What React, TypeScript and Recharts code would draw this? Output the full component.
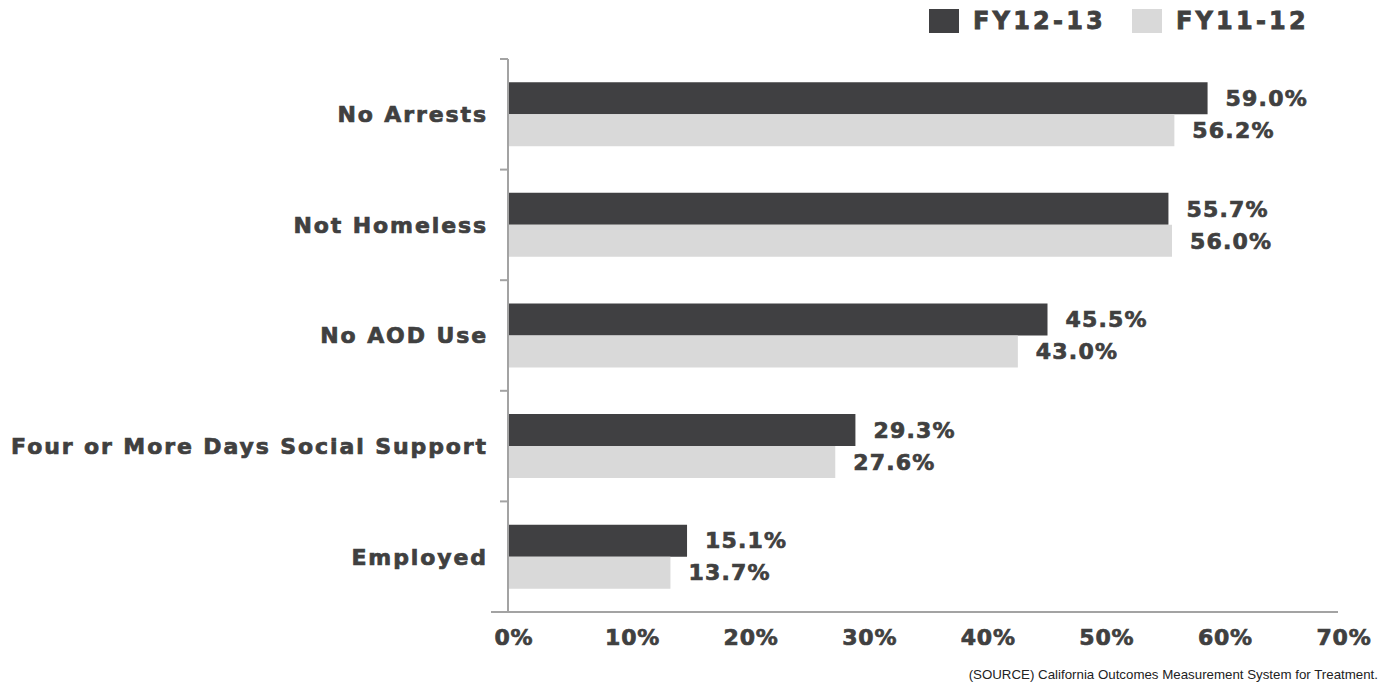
import React from 'react';
import { BarChart, Bar, XAxis, YAxis, LabelList } from 'recharts';

const categories = [
  'No Arrests',
  'Not Homeless',
  'No AOD Use',
  'Four or More Days Social Support',
  'Employed',
];
const fy1213 = [59.0, 55.7, 45.5, 29.3, 15.1];
const fy1112 = [56.2, 56.0, 43.0, 27.6, 13.7];
const xTicks = [0, 10, 20, 30, 40, 50, 60, 70];
const seriesNames = ['FY12-13', 'FY11-12'];
const seriesColors = ['#404042', '#d9d9d9'];
const sourceNote = '(SOURCE) California Outcomes Measurement System for Treatment.';

const data = categories.map((name, i) => ({ name, a: fy1213[i], b: fy1112[i] }));

const FONT = "'DejaVu Sans', 'Liberation Sans', sans-serif";
const TEXT = '#404040';
const AXIS = '#a3a3a3';

const YTick = (props: any) => {
  const { x, y, payload, index } = props;
  const half = payload && typeof payload.offset === 'number' && payload.offset > 0 ? payload.offset : 55.3;
  return (
    <g>
      <line x1={x - 8} x2={x} y1={y - half} y2={y - half} stroke={AXIS} strokeWidth={2} />
      {index === categories.length - 1 && (
        <line x1={x - 17} x2={x} y1={y + half} y2={y + half} stroke={AXIS} strokeWidth={2} />
      )}
      <text
        x={x - 20}
        y={y}
        dy="0.36em"
        textAnchor="end"
        fill={TEXT}
        stroke={TEXT}
        strokeWidth={0.7}
        fontFamily={FONT}
        fontWeight="bold"
        fontSize={22}
        letterSpacing={1.9}
      >
        {payload.value}
      </text>
    </g>
  );
};

const fmt = (v: any) => `${Number(v).toFixed(1)}%`;

export default function App() {
  return (
    <div style={{ position: 'absolute', left: 0, top: 0, width: 1390, height: 684, background: '#fff' }}>
      <BarChart
        width={1390}
        height={684}
        data={data}
        layout="vertical"
        margin={{ top: 59, right: 52, left: 0, bottom: 0 }}
        barCategoryGap="21%"
        barGap={0}
      >
        <XAxis
          type="number"
          domain={[0, 70]}
          ticks={xTicks}
          tickFormatter={(v: number) => `${v}%`}
          height={72}
          tickLine={false}
          tickSize={0}
          tickMargin={17}
          axisLine={{ stroke: AXIS, strokeWidth: 2 }}
          tick={{ fill: TEXT, stroke: TEXT, strokeWidth: 0.7, fontSize: 22, fontWeight: 'bold', fontFamily: FONT, letterSpacing: 0.8, dx: 6 }}
          interval={0}
        />
        <YAxis
          type="category"
          dataKey="name"
          width={508}
          tickLine={false}
          tickSize={0}
          tickMargin={0}
          axisLine={{ stroke: AXIS, strokeWidth: 2 }}
          tick={<YTick />}
          interval={0}
        />
        <Bar dataKey="a" name={seriesNames[0]} fill={seriesColors[0]} isAnimationActive={false}>
          <LabelList
            dataKey="a"
            position="right"
            offset={18}
            formatter={fmt}
            fill={TEXT}
            stroke={TEXT}
            strokeWidth={0.7}
            fontSize={22}
            fontWeight="bold"
            fontFamily={FONT}
            letterSpacing={1.2}
          />
        </Bar>
        <Bar dataKey="b" name={seriesNames[1]} fill={seriesColors[1]} isAnimationActive={false}>
          <LabelList
            dataKey="b"
            position="right"
            offset={18}
            formatter={fmt}
            fill={TEXT}
            stroke={TEXT}
            strokeWidth={0.7}
            fontSize={22}
            fontWeight="bold"
            fontFamily={FONT}
            letterSpacing={1.2}
          />
        </Bar>
      </BarChart>
      <div style={{ position: 'absolute', top: 9, left: 929, display: 'flex', alignItems: 'center', fontFamily: FONT }}>
        {seriesNames.map((n, i) => (
          <div key={n} style={{ display: 'flex', alignItems: 'center', marginRight: i === 0 ? 26 : 0 }}>
            <div style={{ width: 30, height: 24, background: seriesColors[i], marginRight: 14 }} />
            <span
              style={{
                fontSize: 24,
                fontWeight: 'bold',
                color: TEXT,
                letterSpacing: 3.2,
                lineHeight: '24px',
                WebkitTextStroke: `0.8px ${TEXT}`,
              }}
            >
              {n}
            </span>
          </div>
        ))}
      </div>
      <div
        style={{
          position: 'absolute',
          right: 12,
          top: 667,
          fontFamily: "'Liberation Sans', Arial, sans-serif",
          fontSize: 13.3,
          color: '#222',
          whiteSpace: 'nowrap',
        }}
      >
        {sourceNote}
      </div>
    </div>
  );
}
